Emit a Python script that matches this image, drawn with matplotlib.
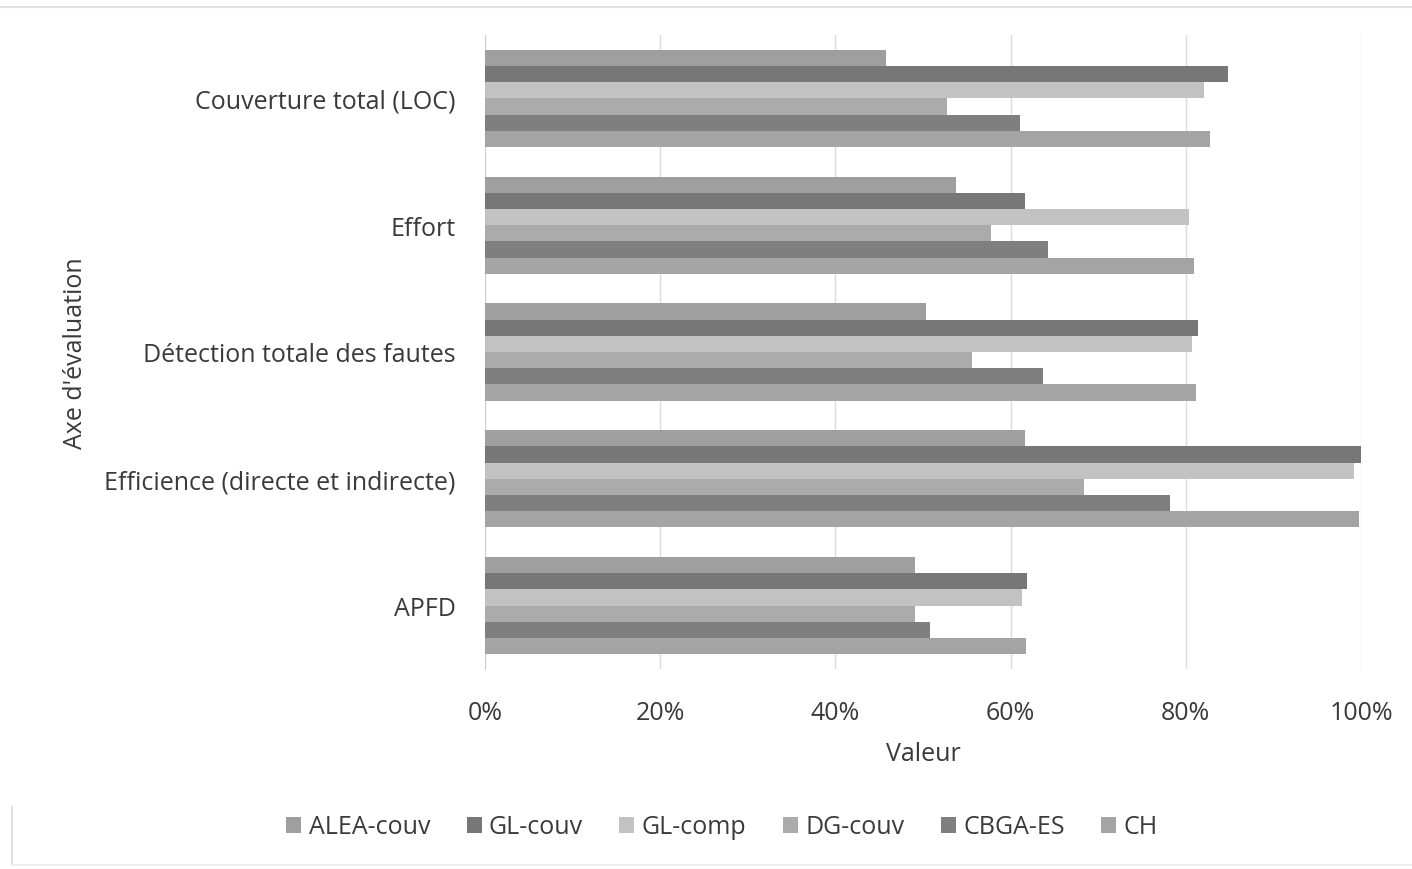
import numpy as np
import matplotlib.pyplot as plt
from matplotlib.lines import Line2D

categories = ["Couverture total (LOC)", "Effort", "Détection totale des fautes",
              "Efficience (directe et indirecte)", "APFD"]
series = ["ALEA-couv", "GL-couv", "GL-comp", "DG-couv", "CBGA-ES", "CH"]
alea_couv = [45.8, 53.8, 50.3, 61.6, 49.1]
gl_couv = [84.8, 61.6, 81.4, 100.0, 61.9]
gl_comp = [82.1, 80.4, 80.7, 99.2, 61.3]
dg_couv = [52.7, 57.8, 55.6, 68.4, 49.1]
cbga_es = [61.1, 64.3, 63.7, 78.2, 50.8]
ch = [82.8, 80.9, 81.2, 99.8, 61.8]
colors = ["#9f9f9f", "#777777", "#c2c2c2", "#ababab", "#7f7f7f", "#a4a4a4"]

values = [alea_couv, gl_couv, gl_comp, dg_couv, cbga_es, ch]

plt.rcParams['font.family'] = ['Open Sans', 'DejaVu Sans']
txt = "#3a3a3a"
fs = 18
fig = plt.figure(figsize=(14.12, 8.7), dpi=100)
ax = fig.add_axes([485 / 1412, 1 - 670 / 870, 876 / 1412, 634 / 870])

y = np.arange(len(categories))
h = 0.765 / len(series)
for i, (name, vals) in enumerate(zip(series, values)):
    pos = y - 0.765 / 2 + h * (i + 0.5)
    ax.barh(pos, vals, height=h, color=colors[i], label=name, zorder=3)

ax.set_ylim(len(categories) - 0.5, -0.5)
ax.set_xlim(0, 100)
ax.set_xticks(np.arange(0, 101, 20))
ax.set_xticklabels([f"{t}%" for t in range(0, 101, 20)])
ax.set_yticks(y)
ax.set_yticklabels(categories)
ax.grid(axis='x', color="#dcdcdc", linewidth=1, zorder=0)
for s in ['top', 'right', 'bottom']:
    ax.spines[s].set_visible(False)
ax.spines['left'].set_color("#d0d0d0")
ax.tick_params(length=0, labelsize=fs, colors=txt)
ax.tick_params(axis='x', pad=22)
ax.tick_params(axis='y', pad=21)
ax.set_xlabel("Valeur", fontsize=fs, color=txt, labelpad=12)
ax.set_ylabel("Axe d'évaluation", fontsize=fs, color=txt, labelpad=12)

ax.legend(loc='center', bbox_to_anchor=(722 / 1412, 1 - 828 / 870),
          bbox_transform=fig.transFigure, ncol=6, frameon=False,
          fontsize=fs, handlelength=0.6, handleheight=0.6, handletextpad=0.3,
          columnspacing=1.45, labelcolor=txt)

fig.add_artist(Line2D([0, 1], [1 - 8 / 870, 1 - 8 / 870], color="#e0e0e0", linewidth=1.5))
fig.add_artist(Line2D([12 / 1412, 12 / 1412], [1 - 865 / 870, 1 - 808 / 870], color="#e0e0e0", linewidth=1.5))
fig.add_artist(Line2D([12 / 1412, 1], [1 - 866 / 870, 1 - 866 / 870], color="#eeeeee", linewidth=1.5))

fig.savefig("out.png", dpi=100)
